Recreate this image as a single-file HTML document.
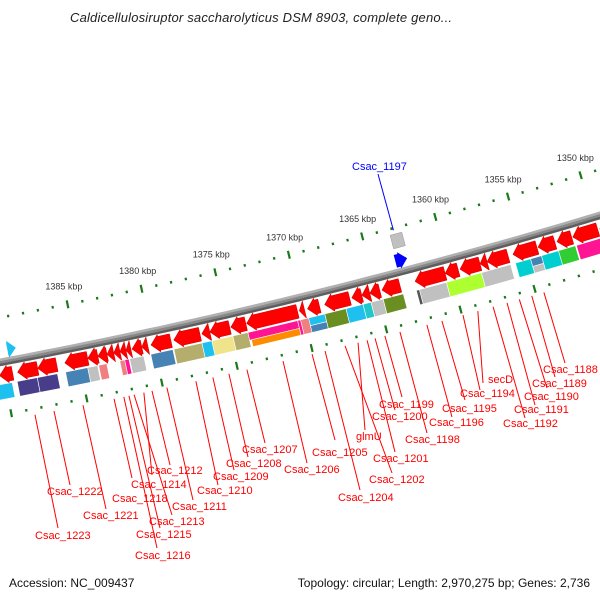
<!DOCTYPE html>
<html><head><meta charset="utf-8"><style>
html,body{margin:0;padding:0;background:#fff;}
svg{display:block;font-family:"Liberation Sans",sans-serif;}
</style></head><body>
<svg id="map" width="600" height="600" viewBox="0 0 600 600" xmlns="http://www.w3.org/2000/svg">
<rect width="600" height="600" fill="#fff"/>
<text x="70" y="22" font-size="13" font-style="italic" fill="#222" textLength="382">Caldicellulosiruptor saccharolyticus DSM 8903, complete geno...</text>
<g id="rings"></g>
<g id="genes"></g>
<g id="labels"></g>
<text x="9" y="587" font-size="12" fill="#111">Accession: NC_009437</text>
<text x="590" y="587" font-size="12" fill="#111" text-anchor="end">Topology: circular; Length: 2,970,275 bp; Genes: 2,736</text>
</svg>
<script>
// ---- data (kbp) ----
const redLo=[1389.42,1387.75,1386.48,1384.41,1383.73,1383.12,1382.67,1382.25,1381.85,1381.52,1380.79,1380.39,1378.84,1376.89,1376.23,1374.89,1373.81,1370.33,1369.86,1368.85,1366.81,1365.99,1365.45,1364.77,1363.41,1360.35,1359.46,1357.98,1357.50,1356.07,1354.10,1352.88,1351.73,1349.95,1348.5];
const redHi=[1390.29,1389.09,1387.75,1385.94,1384.41,1383.73,1383.12,1382.67,1382.25,1381.85,1381.45,1380.79,1380.18,1378.65,1376.77,1376.23,1374.82,1373.76,1370.21,1369.66,1368.50,1366.67,1365.99,1365.45,1364.63,1362.39,1360.35,1359.34,1357.98,1357.50,1355.74,1354.03,1352.74,1351.66,1349.82];
const cogLo=[1389.56,1387.89,1386.55,1384.53,1383.87,1383.26,1382.06,1381.78,1380.79,1378.84,1376.89,1376.23,1374.82,1373.81,1370.47,1370.47,1370.27,1369.66,1368.64,1368.64,1367.21,1366.06,1365.52,1364.70,1363.34,1362.25,1360.42,1358.05,1356.07,1354.71,1353.97,1353.97,1352.81,1351.66,1349.66];
const cogHi=[1390.73,1389.23,1387.89,1386.01,1384.53,1383.80,1382.39,1382.06,1381.73,1380.32,1378.77,1376.89,1376.23,1374.82,1373.81,1373.69,1370.47,1370.27,1369.73,1369.73,1368.64,1367.21,1366.06,1365.52,1364.70,1362.46,1362.25,1360.42,1358.05,1355.74,1354.71,1354.71,1353.97,1352.81,1351.59];
const cogColor=['#1ec0f0','#483d8b','#483d8b','#4682b4','#c0c0c0','#f08080','#f08080','#ff1493','#c0c0c0','#4682b4','#b5ad6b','#1ec0f0','#efe48c','#b5ad6b','#ff1493','#ff8c00','#ff1493','#f08080','#1ec0f0','#4682b4','#6b8e23','#1ec0f0','#20c8cc','#c0c0c0','#6b8e23','#555555','#c0c0c0','#adff2f','#c0c0c0','#00ced1','#4682b4','#c0c0c0','#00ced1','#32cd32','#ff1493'];
const cogLane=[0,0,0,0,0,0,0,0,0,0,0,0,0,0,1,2,0,0,1,2,0,0,0,0,0,0,0,0,0,0,1,2,0,0,0];
const tickLabels=[1350,1355,1360,1365,1370,1375,1380,1385];
const labelNames=['Csac_1188','Csac_1189','Csac_1190','Csac_1191','Csac_1192','secD','Csac_1194','Csac_1195','Csac_1196','Csac_1198','Csac_1199','Csac_1200','Csac_1201','glmU','Csac_1202','Csac_1204','Csac_1205','Csac_1206','Csac_1207','Csac_1208','Csac_1209','Csac_1210','Csac_1211','Csac_1212','Csac_1214','Csac_1213','Csac_1215','Csac_1216','Csac_1218','Csac_1221','Csac_1222','Csac_1223'];
const labelKbp=[1354.48,1355.30,1356.14,1356.97,1357.91,1358.94,1359.94,1361.36,1362.37,1364.18,1365.19,1365.85,1366.38,1366.99,1367.86,1369.20,1370.07,1372.01,1374.42,1375.62,1376.69,1377.82,1379.75,1380.74,1381.28,1381.93,1382.27,1382.61,1383.26,1385.32,1387.24,1388.50];
// label layout (screen anchor of text: left x, centre y) and line end
const labelX=[543,532,524,514,503,488,460,442,429,405,379,372,373,356,369,338,312,284,242,226,213,197,172,147,131,149,136,135,112,83,47,35];
const labelY=[369,383,396,409,423,379,393,408,422,439,404,416,458,436,479,497,452,469,449,463,476,490,506,470,484,521,534,555,498,515,491,535];
const lineEndX=[565,555,547,535,525,483,480,465,452,427,402,395,395,365,392,360,335,307,265,248,234,218,193,170,152,172,160,157,132,106,70,58];
const lineEndY=[363,377,388,405,418,383,390,400,417,433,397,410,452,430,473,490,440,463,443,457,470,485,500,465,475,515,528,548,478,509,485,528];
const innerLo=[1388.9,1362.5];
const innerHi=[1389.47,1363.3];
const innerColor=['#1ec0f0','#0000ff'];

// ---- geometry ----
const CX=-1074, CY=-5319, R0=5782;
const th=k=>(76.26+(k-1370)*0.151)*Math.PI/180;
const P=(k,r)=>[CX+r*Math.cos(th(k)), CY+r*Math.sin(th(k))];
const NS='http://www.w3.org/2000/svg';
const f=n=>n.toFixed(2);
function mk(tag,attrs,parent){const e=document.createElementNS(NS,tag);for(const a in attrs)e.setAttribute(a,attrs[a]);parent.appendChild(e);return e;}
const rings=document.getElementById('rings'), genes=document.getElementById('genes'), labels=document.getElementById('labels');
function arcPath(r,k1,k2){let d='';for(let k=k1;k<=k2+1e-9;k+=0.5){const p=P(k,r);d+=(d?'L':'M')+f(p[0])+','+f(p[1]);}return d;}
function box(k1,k2,r1,r2){const a=P(k1,r1),b=P(k2,r1),c=P(k2,r2),d=P(k1,r2);return 'M'+[a,b,c,d].map(p=>f(p[0])+','+f(p[1])).join('L')+'Z';}
function arrow(lo,hi,r1,r2,dir){
  const head=Math.min(0.55,(hi-lo));const rm=(r1+r2)/2, e=2;
  if(dir>0){const b=hi-head;const pts=[P(lo,r1),P(b,r1),P(b,r1-e),P(hi,rm),P(b,r2+e),P(b,r2),P(lo,r2)];return 'M'+pts.map(p=>f(p[0])+','+f(p[1])).join('L')+'Z';}
  const b=lo+head;const pts=[P(hi,r1),P(b,r1),P(b,r1-e),P(lo,rm),P(b,r2+e),P(b,r2),P(hi,r2)];return 'M'+pts.map(p=>f(p[0])+','+f(p[1])).join('L')+'Z';
}
// backbone
[['#b0b0b0',5779.5],['#888',5782],['#5e5e5e',5784.5]].forEach(s=>{
  const e=mk('path',{d:arcPath(s[1],1340,1396),fill:'none',stroke:s[0],'stroke-width':2.6},rings);
  
  
});
// ticks
[5738,5834].forEach((r,ri)=>{
  for(let k=1340;k<=1396;k++){
    const major=k%5===0;const L=major?4:1.3;
    const a=P(k,r-L),b=P(k,r+L);
    const t=mk('line',{x1:f(a[0]),y1:f(a[1]),x2:f(b[0]),y2:f(b[1]),stroke:'#1a7a1a','stroke-width':2.2},rings);
    
    
  }
});
tickLabels.forEach(k=>{
  const p=P(k,5720);
  const t=mk('text',{x:f(p[0]),y:f(p[1]+3),'font-size':9,fill:'#333','text-anchor':'middle'},rings);
  t.textContent=k+' kbp';
  
  
});
// red CDS arrows
redLo.forEach((lo,i)=>{
  const e=mk('path',{d:arrow(lo,redHi[i],R0+6,R0+20,1),fill:'#f00',stroke:'#c00','stroke-width':0.5},genes);
  
  
});
// COG boxes
cogLo.forEach((lo,i)=>{
  const ln=cogLane[i];const r1=ln===2?R0+30:R0+22, r2=ln===1?R0+30:R0+37;
  const e=mk('path',{d:box(lo,cogHi[i],r1,r2),fill:cogColor[i],stroke:'#fff','stroke-width':0.6},genes);
  
  
});
// inner features
innerLo.forEach((lo,i)=>{
  const e=mk('path',{d:arrow(lo,innerHi[i],R0-18,R0-5,-1),fill:innerColor[i]},genes);
  
  
});
{const e=mk('path',{d:box(1362.4,1363.2,R0-38,R0-24),fill:'#c0c0c0',stroke:'#999','stroke-width':0.5},genes);

}
// blue label Csac_1197
{const p=P(1362.9,R0-42);
const l=mk('line',{x1:f(p[0]),y1:f(p[1]),x2:378,y2:174,stroke:'#00f','stroke-width':1},labels);


const t=mk('text',{x:352,y:170,'font-size':11,fill:'#00f'},labels);t.textContent='Csac_1197';

}
// red labels
labelNames.forEach((n,i)=>{
  const p=P(labelKbp[i],5840);
  const l=mk('line',{x1:f(p[0]),y1:f(p[1]),x2:lineEndX[i],y2:lineEndY[i],stroke:'#f00','stroke-width':1},labels);
  
  
  const t=mk('text',{x:labelX[i],y:labelY[i]+4,'font-size':11,fill:'#f00'},labels);
  t.textContent=n;
  
  
});
</script>
</body></html>
